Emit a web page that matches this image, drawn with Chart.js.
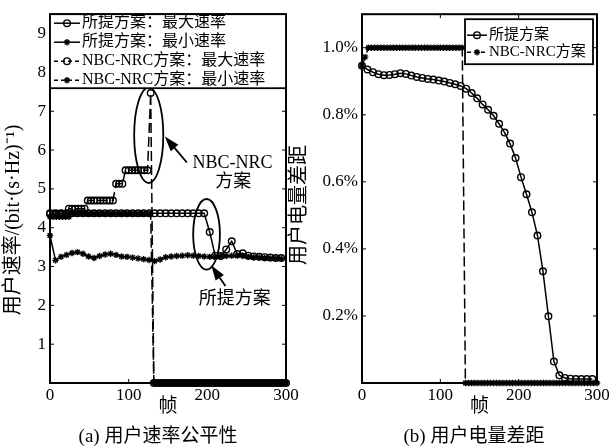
<!DOCTYPE html>
<html>
<head>
<meta charset="utf-8">
<script src="https://cdn.jsdelivr.net/npm/chart.js@4.4.1/dist/chart.umd.min.js"></script>
<style>
html, body { margin: 0; padding: 0; background: #fff; }
#wrap { position: relative; width: 614px; height: 447px; overflow: hidden; }
#chartA { position: absolute; left: 0; top: 0; }
#chartB { position: absolute; left: 287px; top: 0; }
.cap { position: absolute; top: 420px; font: 19px "Liberation Serif", "Noto Sans CJK SC", serif; color: #000; white-space: nowrap; transform: translateX(-50%); }
</style>
</head>
<body>
<div id="wrap">
  <canvas id="chartA" width="307" height="447"></canvas>
  <canvas id="chartB" width="327" height="447"></canvas>
  <div class="cap" style="left:158px">(a) 用户速率公平性</div>
  <div class="cap" style="left:474px">(b) 用户电量差距</div>
</div>
<script>
// frames where the proposed scheme is sampled / where NBC-NRC is sampled
var RATE_FRAMES = [0, 7, 14, 21, 28, 35, 42, 49, 56, 63, 70, 77, 84, 91, 98, 105, 112, 119, 126, 133, 140,
    147, 154, 161, 168, 175, 182, 189, 196, 203, 210, 217, 224, 231, 238, 245, 252, 259, 266, 273, 280, 287, 294];
var NBC_FRAMES = [0, 4, 8, 12, 16, 20, 24, 28, 32, 36, 40, 44, 48, 52, 56, 60, 64, 68, 72, 76, 80, 84, 88, 92,
    96, 100, 104, 108, 112, 116, 120, 124, 128, 132, 136, 140, 144, 148, 152, 156, 160, 164, 168, 172, 176, 180,
    184, 188, 192, 196, 200, 204, 208, 212, 216, 220, 224, 228, 232, 236, 240, 244, 248, 252, 256, 260, 264, 268,
    272, 276, 280, 284, 288, 292, 296, 300];

// (a) user rate, bit/(s·Hz)
var PROPOSED_MAX_RATE = [4.37, 4.37, 4.37, 4.37, 4.37, 4.37, 4.37, 4.37, 4.37, 4.37, 4.37, 4.37, 4.37, 4.37, 4.37,
    4.37, 4.37, 4.37, 4.37, 4.37, 4.37, 4.37, 4.37, 4.37, 4.37, 4.37, 4.37, 4.37, 4.37, 3.89, 3.28, 3.27, 3.44, 3.65,
    3.32, 3.34, 3.28, 3.26, 3.25, 3.24, 3.23, 3.22, 3.22];
var PROPOSED_MIN_RATE = [3.80, 3.16, 3.25, 3.30, 3.35, 3.37, 3.33, 3.26, 3.22, 3.27, 3.31, 3.33, 3.30, 3.26, 3.25,
    3.23, 3.21, 3.19, 3.17, 3.14, 3.18, 3.24, 3.26, 3.27, 3.28, 3.29, 3.28, 3.27, 3.26, 3.25, 3.25, 3.26, 3.27, 3.28,
    3.28, 3.27, 3.25, 3.24, 3.23, 3.22, 3.21, 3.21, 3.20];
var NBC_MAX_RATE = [4.36, 4.36, 4.36, 4.36, 4.36, 4.36, 4.49, 4.49, 4.49, 4.49, 4.49, 4.49, 4.70, 4.70, 4.70, 4.70,
    4.70, 4.70, 4.70, 4.70, 4.70, 5.13, 5.13, 5.13, 5.48, 5.48, 5.48, 5.48, 5.48, 5.48, 5.48, 5.48, 7.47,
    0, 0, 0, 0, 0, 0, 0, 0, 0, 0, 0, 0, 0, 0, 0, 0, 0, 0, 0, 0, 0, 0, 0, 0, 0, 0, 0, 0, 0, 0, 0, 0, 0, 0, 0, 0,
    0, 0, 0, 0, 0, 0, 0];
var NBC_MIN_RATE = [4.28, 4.28, 4.28, 4.28, 4.28, 4.28, 4.28, 4.36, 4.36, 4.36, 4.36, 4.36, 4.36, 4.36, 4.36, 4.36,
    4.36, 4.36, 4.36, 4.36, 4.36, 4.36, 4.36, 4.36, 4.36, 4.36, 4.36, 4.36, 4.36, 4.36, 4.36, 4.36, 4.36,
    0, 0, 0, 0, 0, 0, 0, 0, 0, 0, 0, 0, 0, 0, 0, 0, 0, 0, 0, 0, 0, 0, 0, 0, 0, 0, 0, 0, 0, 0, 0, 0, 0, 0, 0, 0,
    0, 0, 0, 0, 0, 0, 0];

// (b) user battery gap, %
var PROPOSED_GAP = [0.946, 0.935, 0.927, 0.921, 0.918, 0.919, 0.921, 0.924, 0.922, 0.917, 0.913, 0.910, 0.907,
    0.905, 0.902, 0.899, 0.895, 0.891, 0.886, 0.878, 0.865, 0.849, 0.831, 0.815, 0.797, 0.773, 0.747, 0.714, 0.671,
    0.614, 0.563, 0.509, 0.440, 0.333, 0.199, 0.064, 0.023, 0.015, 0.013, 0.012, 0.012, 0.012, 0.012];
var NBC_GAP = [0.946, 0.972, 1.0, 1.0, 1.0, 1.0, 1.0, 1.0, 1.0, 1.0, 1.0, 1.0, 1.0, 1.0, 1.0, 1.0, 1.0, 1.0, 1.0,
    1.0, 1.0, 1.0, 1.0, 1.0, 1.0, 1.0, 1.0, 1.0, 1.0, 1.0, 1.0, 1.0, 1.0,
    0, 0, 0, 0, 0, 0, 0, 0, 0, 0, 0, 0, 0, 0, 0, 0, 0, 0, 0, 0, 0, 0, 0, 0, 0, 0, 0, 0, 0, 0, 0, 0, 0, 0, 0, 0,
    0, 0, 0, 0, 0, 0, 0];

var X_TICKS = [0, 100, 200, 300];
var RATE_TICKS = [1, 2, 3, 4, 5, 6, 7, 8, 9];
var GAP_TICKS = [0.2, 0.4, 0.6, 0.8, 1.0];

var SERIF = '"Liberation Serif", "Noto Sans CJK SC", serif';

function pairs(xs, ys) {
    return ys.map(function (y, i) { return { x: xs[i], y: y }; });
}

function series(label, xs, ys, dashed, marker) {
    return {
        label: label,
        data: pairs(xs, ys),
        borderColor: '#000',
        borderWidth: 1.5,
        borderDash: dashed ? [10, 4] : [],
        pointStyle: marker,
        pointRadius: marker === 'circle' ? 3.3 : 3.2,
        pointBorderWidth: 1.4,
        pointBorderColor: '#000',
        pointBackgroundColor: 'rgba(0,0,0,0)',
        tension: 0,
        clip: false
    };
}

function drawMarker(ctx, style, x, y, r) {
    ctx.beginPath();
    if (style === 'circle') {
        ctx.arc(x, y, r, 0, Math.PI * 2);
    } else {
        var d = r * 0.707;
        ctx.moveTo(x - r, y); ctx.lineTo(x + r, y);
        ctx.moveTo(x, y - r); ctx.lineTo(x, y + r);
        ctx.moveTo(x - d, y - d); ctx.lineTo(x + d, y + d);
        ctx.moveTo(x - d, y + d); ctx.lineTo(x + d, y - d);
    }
    ctx.stroke();
}

function xAxis() {
    return {
        type: 'linear', min: 0, max: 300,
        afterBuildTicks: function (s) { s.ticks = X_TICKS.map(function (v) { return { value: v }; }); },
        afterFit: function (s) { s.height = 64; },
        grid: { display: false, drawTicks: false },
        border: { display: false },
        ticks: { color: '#000', font: { family: SERIF, size: 17 }, padding: 2, maxRotation: 0, autoSkip: false },
        title: { display: true, text: '帧', color: '#000', font: { family: SERIF, size: 19 }, padding: { top: 0, bottom: 29 } }
    };
}

function yAxis(max, tickList, width, fmt) {
    return {
        type: 'linear', min: 0, max: max,
        afterBuildTicks: function (s) { s.ticks = tickList.map(function (v) { return { value: v }; }); },
        afterFit: function (s) { s.width = width; },
        grid: { display: false, drawTicks: false },
        border: { display: false },
        ticks: { color: '#000', font: { family: SERIF, size: 17 }, padding: 4, autoSkip: false, callback: fmt }
    };
}

// box around the plot, inward tick marks, rotated y title
function framePlugin(yTitle, tx, ty) {
    return {
        id: 'frame',
        afterDatasetsDraw: function (chart) {
            var a = chart.chartArea, ctx = chart.ctx;
            var sx = chart.scales.x, sy = chart.scales.y;
            ctx.save();
            ctx.strokeStyle = '#000';
            ctx.setLineDash([]);
            ctx.lineWidth = 1;
            ctx.beginPath();
            sx.ticks.forEach(function (t) {
                var p = sx.getPixelForValue(t.value);
                ctx.moveTo(p, a.bottom); ctx.lineTo(p, a.bottom - 4);
                ctx.moveTo(p, a.top); ctx.lineTo(p, a.top + 4);
            });
            sy.ticks.forEach(function (t) {
                var p = sy.getPixelForValue(t.value);
                ctx.moveTo(a.left, p); ctx.lineTo(a.left + 4, p);
                ctx.moveTo(a.right, p); ctx.lineTo(a.right - 4, p);
            });
            ctx.stroke();
            ctx.lineWidth = 2;
            ctx.strokeRect(a.left, a.top, a.right - a.left, a.bottom - a.top);
            ctx.fillStyle = '#000';
            ctx.font = '20px ' + SERIF;
            ctx.translate(tx, ty);
            ctx.rotate(-Math.PI / 2);
            ctx.textAlign = 'center';
            ctx.textBaseline = 'middle';
            ctx.fillText(yTitle, 0, 0);
            ctx.restore();
        }
    };
}

// matlab-like legend: line with marker, in a white box
function legendPlugin(place) {
    return {
        id: 'boxLegend',
        afterDatasetsDraw: function (chart) {
            var ctx = chart.ctx;
            var b = place(chart.chartArea);
            ctx.save();
            ctx.fillStyle = '#fff';
            ctx.fillRect(b.x, b.y, b.w, b.h);
            ctx.strokeStyle = '#000';
            ctx.lineWidth = 1.8;
            ctx.setLineDash([]);
            ctx.strokeRect(b.x, b.y, b.w, b.h);
            ctx.font = b.size + 'px ' + SERIF;
            ctx.textBaseline = 'middle';
            chart.data.datasets.forEach(function (ds, i) {
                var cy = b.y + b.first + i * b.row;
                ctx.lineWidth = 1.5;
                ctx.setLineDash(ds.borderDash.length ? [4, 3] : []);
                ctx.beginPath();
                ctx.moveTo(b.x + b.l0, cy);
                ctx.lineTo(b.x + b.l1, cy);
                ctx.stroke();
                ctx.setLineDash([]);
                ctx.lineWidth = 1.4;
                drawMarker(ctx, ds.pointStyle, b.x + (b.l0 + b.l1) / 2, cy, ds.pointRadius);
                ctx.fillStyle = '#000';
                ctx.fillText(ds.label, b.x + b.tx, cy);
            });
            ctx.restore();
        }
    };
}

// callouts in panel (a), placed in data units
var CALLOUT_ELLIPSES = [{ x: 125.5, y: 6.38, rx: 18.5, ry: 1.23 }, { x: 199, y: 3.83, rx: 17, ry: 0.91 }];
var CALLOUT_ARROWS = [{ from: [174, 5.68], to: [146, 6.35] }, { from: [223, 2.5], to: [205, 3.03] }];
var CALLOUT_TEXTS = [{ text: 'NBC-NRC', x: 232, y: 5.65 }, { text: '方案', x: 233, y: 5.17 }, { text: '所提方案', x: 235, y: 2.15 }];

var calloutPlugin = {
    id: 'callouts',
    afterDatasetsDraw: function (chart) {
        var sx = chart.scales.x, sy = chart.scales.y, ctx = chart.ctx;
        function px(v) { return sx.getPixelForValue(v); }
        function py(v) { return sy.getPixelForValue(v); }
        ctx.save();
        ctx.strokeStyle = '#000';
        ctx.fillStyle = '#000';
        ctx.setLineDash([]);
        ctx.lineWidth = 1.8;
        CALLOUT_ELLIPSES.forEach(function (e) {
            ctx.beginPath();
            ctx.ellipse(px(e.x), py(e.y), px(e.x + e.rx) - px(e.x), py(e.y) - py(e.y + e.ry), 0, 0, Math.PI * 2);
            ctx.stroke();
        });
        CALLOUT_ARROWS.forEach(function (a) {
            var x0 = px(a.from[0]), y0 = py(a.from[1]), x1 = px(a.to[0]), y1 = py(a.to[1]);
            var ang = Math.atan2(y1 - y0, x1 - x0), len = 15, half = 5;
            var bx = x1 - len * Math.cos(ang), by = y1 - len * Math.sin(ang);
            ctx.beginPath();
            ctx.moveTo(x0, y0); ctx.lineTo(bx, by);
            ctx.stroke();
            ctx.beginPath();
            ctx.moveTo(x1, y1);
            ctx.lineTo(bx + half * Math.sin(ang), by - half * Math.cos(ang));
            ctx.lineTo(bx - half * Math.sin(ang), by + half * Math.cos(ang));
            ctx.closePath();
            ctx.fill();
        });
        ctx.font = '18px ' + SERIF;
        ctx.textAlign = 'center';
        ctx.textBaseline = 'middle';
        CALLOUT_TEXTS.forEach(function (t) { ctx.fillText(t.text, px(t.x), py(t.y)); });
        ctx.restore();
    }
};

new Chart(document.getElementById('chartA'), {
    type: 'line',
    data: {
        datasets: [
            series('所提方案：最大速率', RATE_FRAMES, PROPOSED_MAX_RATE, false, 'circle'),
            series('所提方案：最小速率', RATE_FRAMES, PROPOSED_MIN_RATE, false, 'star'),
            series('NBC-NRC方案：最大速率', NBC_FRAMES, NBC_MAX_RATE, true, 'circle'),
            series('NBC-NRC方案：最小速率', NBC_FRAMES, NBC_MIN_RATE, true, 'star')
        ]
    },
    options: {
        responsive: false,
        animation: false,
        events: [],
        layout: { padding: { left: 0, top: 6, right: 21, bottom: 0 }, autoPadding: false },
        plugins: { legend: { display: false }, tooltip: { enabled: false } },
        scales: {
            x: xAxis(),
            y: yAxis(9.5, RATE_TICKS, 50)
        }
    },
    plugins: [
        framePlugin('用户速率/(bit·(s·Hz)⁻¹)', 14, 220),
        calloutPlugin,
        legendPlugin(function (a) {
            return { x: a.left, y: a.top, w: a.right - a.left, h: 74, first: 9, row: 19, l0: 4, l1: 30, tx: 32, size: 16 };
        })
    ]
});

new Chart(document.getElementById('chartB'), {
    type: 'line',
    data: {
        datasets: [
            series('所提方案', RATE_FRAMES, PROPOSED_GAP, false, 'circle'),
            series('NBC-NRC方案', NBC_FRAMES, NBC_GAP, true, 'star')
        ]
    },
    options: {
        responsive: false,
        animation: false,
        events: [],
        layout: { padding: { left: 0, top: 7, right: 17, bottom: 0 }, autoPadding: false },
        plugins: { legend: { display: false }, tooltip: { enabled: false } },
        scales: {
            x: xAxis(),
            y: yAxis(1.1, GAP_TICKS, 75, function (v) { return v.toFixed(1) + '%'; })
        }
    },
    plugins: [
        framePlugin('用户电量差距', 13, 205),
        legendPlugin(function (a) {
            return { x: a.right - 132, y: a.top + 5, w: 128, h: 45, first: 16, row: 17, l0: 2, l1: 22, tx: 24, size: 15 };
        })
    ]
});
</script>
</body>
</html>
